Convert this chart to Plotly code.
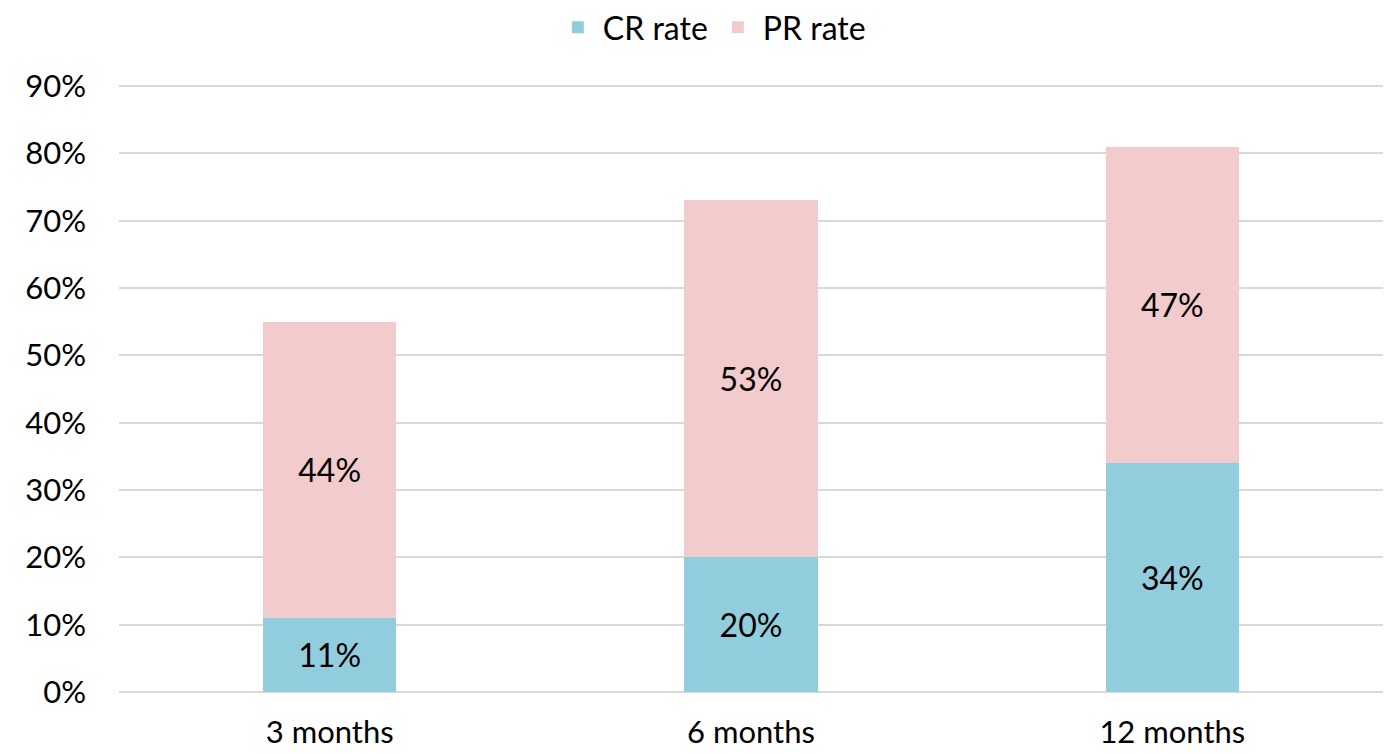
import plotly.graph_objects as go

categories = ["3 months", "6 months", "12 months"]
cr_rate = [11, 20, 34]
pr_rate = [44, 53, 47]
y_ticks = [0, 10, 20, 30, 40, 50, 60, 70, 80, 90]

FONT = "Lato, Open Sans, sans-serif"
CR_COLOR = "#92CDDD"
PR_COLOR = "#F2CBCC"
LABEL_SIZE = 32

fig = go.Figure()
for name, values, color in [("CR rate", cr_rate, CR_COLOR),
                            ("PR rate", pr_rate, PR_COLOR)]:
    fig.add_trace(go.Bar(
        name=name, x=categories, y=[v / 100 for v in values],
        marker=dict(color=color, line=dict(width=0)),
        text=[f"{v}%" for v in values], textposition="inside",
        insidetextanchor="middle", textangle=0,
        textfont=dict(family=FONT, size=LABEL_SIZE, color="black"),
    ))

fig.update_layout(
    barmode="stack",
    bargap=0.684,
    width=1393, height=754,
    margin=dict(l=119, r=10, t=84, b=62, autoexpand=False),
    plot_bgcolor="white", paper_bgcolor="white",
    font=dict(family=FONT, size=31, color="black"),
    legend=dict(
        orientation="h", x=0.469, xanchor="center", y=1.0, yanchor="top",
        yref="container", font=dict(size=32), itemwidth=40,
        traceorder="normal",
    ),
    xaxis=dict(showline=False, ticks="", tickfont=dict(size=31),
               ticklabelstandoff=19, automargin=False),
    yaxis=dict(
        range=[0, 0.903], tickvals=[v / 100 for v in y_ticks],
        ticktext=[f"{v}%" for v in y_ticks],
        showgrid=True, gridcolor="#D9D9D9", gridwidth=2,
        zeroline=True, zerolinecolor="#D9D9D9", zerolinewidth=2,
        ticks="", tickfont=dict(size=31), ticklabelstandoff=32,
        automargin=False,
    ),
)

fig.write_html("out.html")
